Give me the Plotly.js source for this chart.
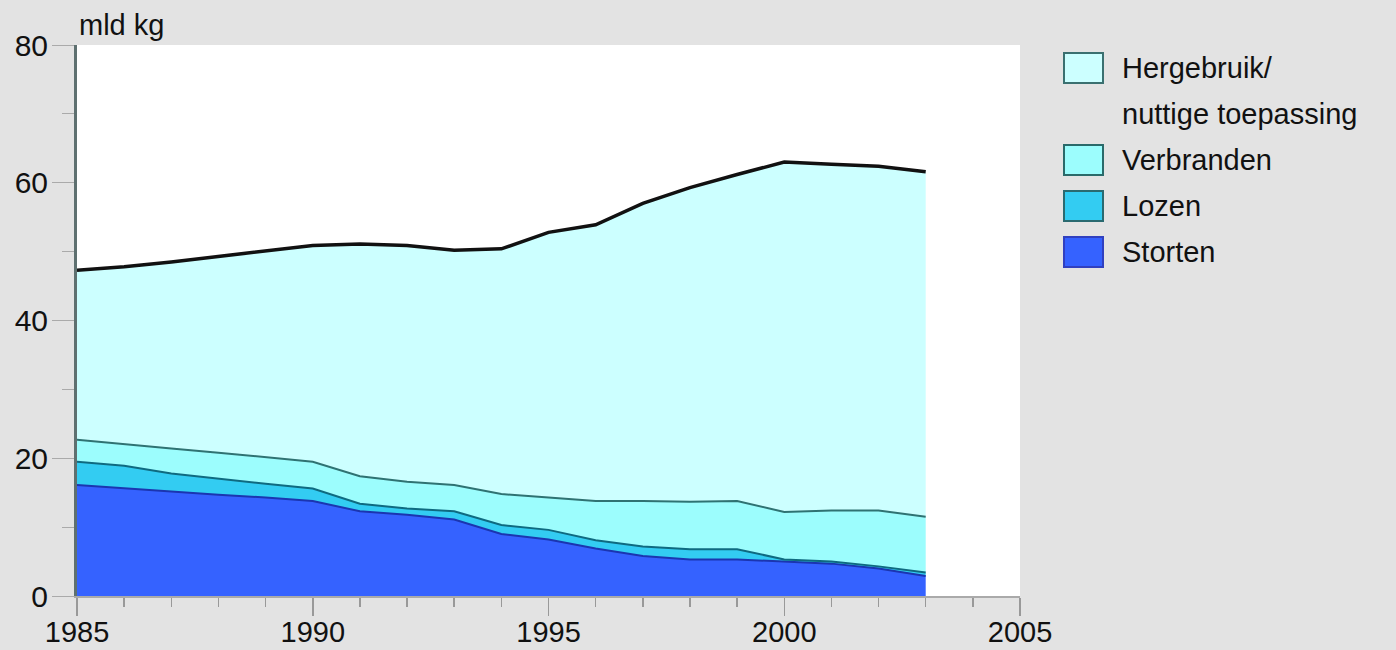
<!DOCTYPE html>
<html>
<head>
<meta charset="utf-8">
<script src="https://cdn.plot.ly/plotly-3.0.1.min.js"></script>
<style>html,body{margin:0;padding:0;background:#e3e3e3;}#chart{width:1396px;height:650px;}</style>
</head>
<body>
<div id="chart"></div>
<script>
// ---- data (mld kg) ----
const years      = [1985,1986,1987,1988,1989,1990,1991,1992,1993,1994,1995,1996,1997,1998,1999,2000,2001,2002,2003];
const storten    = [16.1,15.6,15.1,14.7,14.3,13.8,12.3,11.8,11.1, 9.0, 8.2, 6.9, 5.8, 5.3, 5.3, 5.0, 4.7, 4.0, 2.9];
const lozen      = [ 3.4, 3.3, 2.7, 2.3, 2.0, 1.8, 1.1, 0.9, 1.2, 1.3, 1.4, 1.2, 1.4, 1.5, 1.5, 0.3, 0.3, 0.3, 0.5];
const verbranden = [ 3.2, 3.1, 3.6, 3.8, 3.9, 3.9, 4.0, 3.9, 3.8, 4.5, 4.7, 5.7, 6.6, 6.9, 7.0, 6.9, 7.4, 8.1, 8.1];
const hergebruik = [24.6,25.8,27.1,28.5,30.0,31.4,33.7,34.3,34.1,35.6,38.5,40.1,43.2,45.6,47.4,50.8,50.3,50.0,50.1];
const seriesNames = ["Storten","Lozen","Verbranden","Hergebruik/<br>nuttige toepassing"];
const xTickVals = [1985,1990,1995,2000,2005];
const yTickVals = [0,20,40,60,80];
const yUnit = "mld kg";

// ---- styles ----
const fills = ["#3562ff","#33ccf2","#9cfdfd","#ccffff"];
const lines = ["#1b35b0","#0f6a80","#2f7272","#111111"];
const lineW = [2,2,2,3.5];
const boxBorder = ["#3040c0","#2a6a70","#2a6a6a","#3a7070"];
const FONT = "Liberation Sans, Arial, sans-serif";

const W = 1396, H = 650;
const M = {l:77, r:376, t:45, b:54};
const pw = W - M.l - M.r, ph = H - M.t - M.b;
const px2x = px => (px - M.l) / pw;
const py2y = py => (H - M.b - py) / ph;

const data = [storten, lozen, verbranden, hergebruik].map((vals, i) => ({
  type: "scatter",
  mode: "lines",
  x: years,
  y: vals,
  name: seriesNames[i],
  stackgroup: "one",
  fillcolor: fills[i],
  line: {color: lines[i], width: lineW[i], shape: "linear"},
  showlegend: false,
  hoverinfo: "x+y+name"
}));

// ---- legend (drawn top item first) ----
const shapes = [];
const annotations = [];
const order = [3,2,1,0];
const slotOf = [4,3,2,0];
order.forEach(i => {
  const cy = 68 + slotOf[i] * 46;
  shapes.push({
    type: "rect", xref: "paper", yref: "paper",
    x0: px2x(1064), x1: px2x(1103), y0: py2y(cy + 15), y1: py2y(cy - 15),
    fillcolor: fills[i], line: {color: boxBorder[i], width: 2}
  });
  const parts = seriesNames[i].split("<br>");
  parts.forEach((p, k) => {
    annotations.push({
      xref: "paper", yref: "paper", x: px2x(1120), y: py2y(cy + k * 46),
      xanchor: "left", yanchor: "middle", showarrow: false,
      text: p, font: {family: FONT, size: 29, color: "#111"}
    });
  });
});
annotations.push({
  xref: "paper", yref: "paper", x: 0, y: 1, yshift: 2,
  xanchor: "left", yanchor: "bottom", showarrow: false,
  text: yUnit, font: {family: FONT, size: 29, color: "#111"}
});

const layout = {
  width: W, height: H,
  margin: M,
  paper_bgcolor: "#e3e3e3",
  plot_bgcolor: "#ffffff",
  font: {family: FONT, size: 30, color: "#111"},
  showlegend: false,
  xaxis: {
    range: [1985, 2005], tickvals: xTickVals, ticktext: xTickVals.map(String),
    ticks: "outside", ticklen: 18, tickwidth: 1.5, tickcolor: "#999",
    ticklabelstandoff: -9,
    minor: {dtick: 1, tick0: 1985, ticks: "outside", ticklen: 9, tickwidth: 1.5, tickcolor: "#999"},
    showline: true, linecolor: "#aaaaaa", linewidth: 2,
    showgrid: false, zeroline: false,
    tickfont: {family: FONT, size: 29, color: "#111"}
  },
  yaxis: {
    range: [0, 80], tickvals: yTickVals, ticktext: yTickVals.map(String),
    ticks: "outside", ticklen: 22, tickwidth: 1, tickcolor: "#aaa",
    ticklabelstandoff: -2,
    minor: {dtick: 10, tick0: 0, ticks: "outside", ticklen: 12, tickwidth: 1, tickcolor: "#aaa"},
    showline: true, linecolor: "#5e7070", linewidth: 3,
    showgrid: false, zeroline: false,
    tickfont: {family: FONT, size: 30, color: "#111"}
  },
  shapes: shapes,
  annotations: annotations
};

Plotly.newPlot("chart", data, layout, {staticPlot: true, displayModeBar: false});
</script>
</body>
</html>
